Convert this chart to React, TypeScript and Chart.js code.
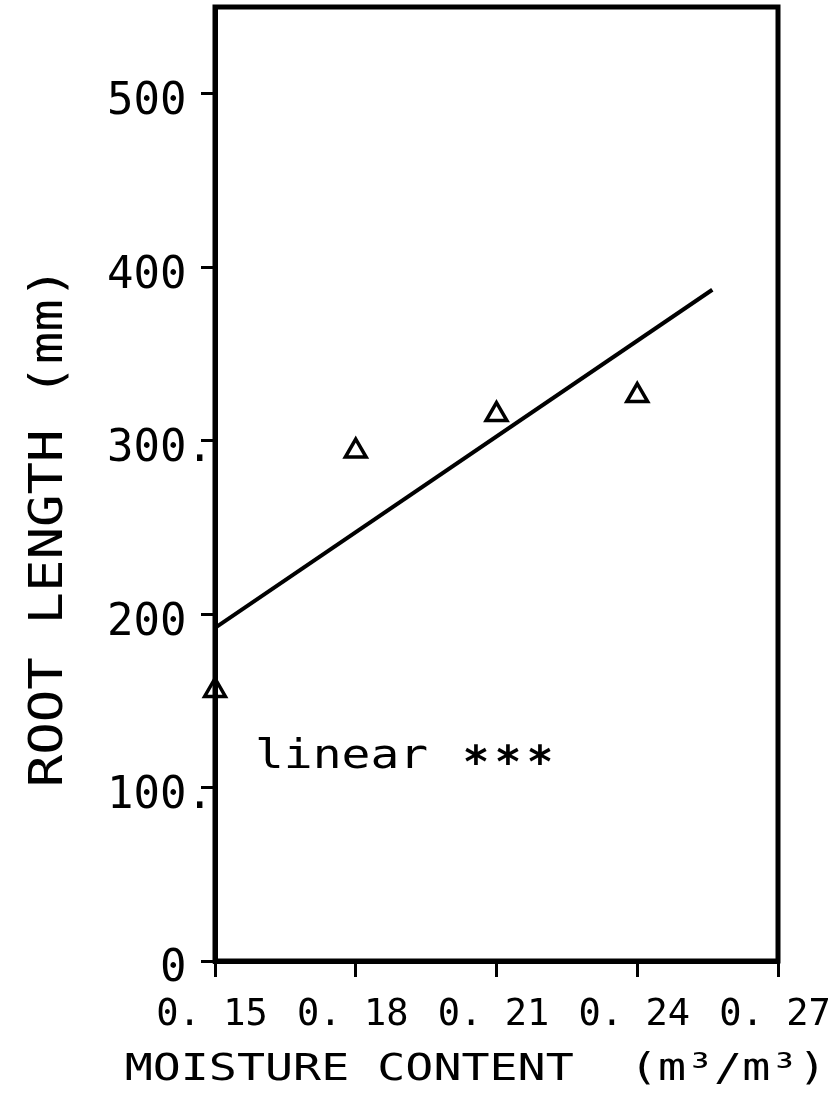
import { useEffect, useRef } from "react";
import { Chart, registerables } from "chart.js";

Chart.register(...registerables);

// ---- data ----
const moisture = [0.15, 0.18, 0.21, 0.24];
const rootLength = [156, 294, 315, 326];
const fitX = [0.15, 0.256];
const fitY = [192, 387];
const xTickLabels = ["0. 15", "0. 18", "0. 21", "0. 24", "0. 27"];
const yTickLabels = ["0", "100.", "200", "300.", "400", "500"];
const xTitle = "MOISTURE CONTENT  (m³/m³)";
const yTitle = "ROOT LENGTH (mm)";
const noteText = "linear";
const noteStars = ["*", "*", "*"];
const noteX = 0.1585;
const noteY = 111;

const FONT = '"DejaVu Sans Mono", "Liberation Mono", monospace';

const framePlugin = {
  id: "frame",
  afterDraw(chart: any) {
    const { ctx, chartArea: a, scales } = chart;
    ctx.save();
    ctx.strokeStyle = "#000";
    ctx.lineWidth = 5;
    ctx.strokeRect(a.left, a.top, a.right - a.left, a.bottom - a.top);

    ctx.fillStyle = "#000";
    ctx.textBaseline = "alphabetic";

    // x-axis title (wide plotter lettering)
    ctx.save();
    ctx.translate((a.left + a.right) / 2 - 21, chart.height - 13);
    ctx.scale(1.26, 1);
    ctx.textAlign = "center";
    ctx.font = `37px ${FONT}`;
    ctx.fillText(xTitle, 0, 0);
    ctx.restore();

    // y-axis title
    ctx.save();
    ctx.translate(62, (a.top + a.bottom) / 2 + 43);
    ctx.rotate(-Math.PI / 2);
    ctx.scale(1.15, 1);
    ctx.textAlign = "center";
    ctx.font = `47px ${FONT}`;
    ctx.fillText(yTitle, 0, 0);
    ctx.restore();

    // annotation
    const x = scales.x.getPixelForValue(noteX);
    const y = scales.y.getPixelForValue(noteY);
    ctx.save();
    ctx.translate(x, y);
    ctx.scale(1.17, 1);
    ctx.textAlign = "left";
    ctx.font = `41px ${FONT}`;
    ctx.fillText(noteText, 0, 0);
    ctx.restore();
    ctx.textAlign = "center";
    ctx.font = `bold 44px ${FONT}`;
    noteStars.forEach((s, i) => ctx.fillText(s, x + 221 + i * 32, y + 9));
    ctx.restore();
  },
};

export default function App() {
  const ref = useRef<HTMLCanvasElement | null>(null);
  useEffect(() => {
    if (!ref.current) return;
    const chart = new Chart(ref.current, {
      type: "scatter",
      data: {
        datasets: [
          {
            label: "observed",
            data: moisture.map((x, i) => ({ x, y: rootLength[i] })),
            pointStyle: "triangle",
            pointRadius: 12,
            pointBorderWidth: 3.5,
            borderColor: "#000",
            backgroundColor: "rgba(0,0,0,0)",
            showLine: false,
            clip: false,
          },
          {
            label: "linear fit",
            data: fitX.map((x, i) => ({ x, y: fitY[i] })),
            showLine: true,
            borderColor: "#000",
            borderWidth: 4,
            pointRadius: 0,
            fill: false,
          },
        ],
      },
      options: {
        responsive: false,
        animation: false,
        devicePixelRatio: 1,
        layout: { autoPadding: false, padding: { top: 7, right: 58, left: 0, bottom: 0 } },
        plugins: {
          legend: { display: false },
          tooltip: { enabled: false },
        },
        scales: {
          x: {
            type: "linear",
            min: 0.15,
            max: 0.27,
            afterFit: (s: any) => {
              s.height = 132;
              s.paddingLeft = 0;
              s.paddingRight = 0;
            },
            ticks: {
              stepSize: 0.03,
              autoSkip: false,
              maxRotation: 0,
              color: "#000",
              padding: 16,
              labelOffset: -3,
              font: { family: FONT, size: 37 },
              callback: (_v: any, i: number) => xTickLabels[i] ?? "",
            },
            grid: {
              drawOnChartArea: false,
              drawTicks: true,
              tickLength: 16,
              lineWidth: 3,
              color: "#000",
            },
            border: { display: true, color: "#000", width: 5 },
            title: { display: false },
          },
          y: {
            type: "linear",
            min: 0,
            max: 550,
            afterFit: (s: any) => {
              s.width = 215;
              s.paddingTop = 0;
              s.paddingBottom = 0;
            },
            ticks: {
              stepSize: 100,
              includeBounds: false,
              color: "#000",
              padding: -12,
              labelOffset: 9,
              font: { family: FONT, size: 44, lineHeight: 0.6 },
              callback: (_v: any, i: number) => {
                const t = yTickLabels[i] ?? "";
                return t.length < 4 ? t + " " : t;
              },
            },
            grid: {
              drawOnChartArea: false,
              drawTicks: true,
              tickLength: 14,
              lineWidth: 3,
              color: "#000",
            },
            border: { display: true, color: "#000", width: 5 },
            title: { display: false },
          },
        },
      },
      plugins: [framePlugin],
    });
    return () => chart.destroy();
  }, []);
  return (
    <div style={{ position: "fixed", left: 0, top: 0, width: 836, height: 1093, background: "#fff" }}>
      <canvas ref={ref} width={836} height={1093} style={{ display: "block" }} />
    </div>
  );
}
